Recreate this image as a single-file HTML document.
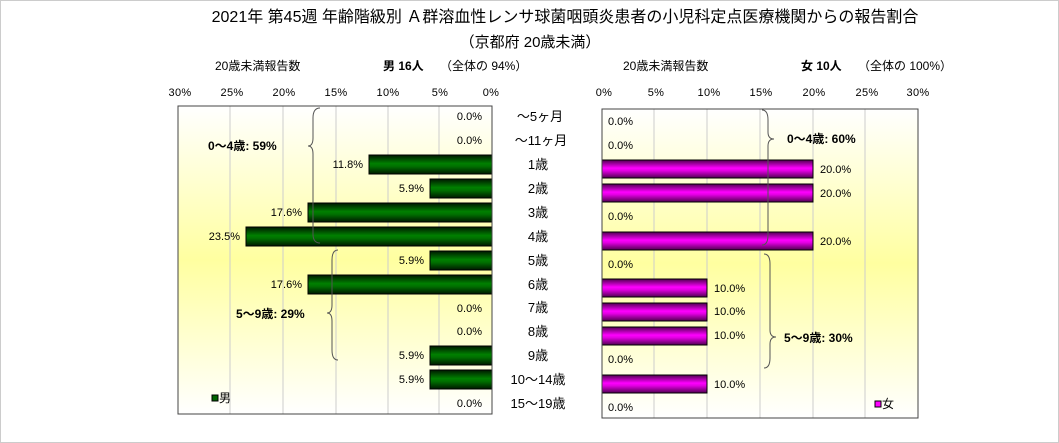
<!DOCTYPE html>
<html><head><meta charset="utf-8"><style>
body{margin:0;background:#fff}
svg{display:block;font-family:"Liberation Sans","Noto Sans CJK JP",sans-serif}
</style></head><body>
<svg width="1059" height="443" viewBox="0 0 1059 443" xmlns="http://www.w3.org/2000/svg">
<defs>
<linearGradient id="bg" x1="0" y1="0" x2="0" y2="1">
<stop offset="0" stop-color="#ffffff"/><stop offset="0.5" stop-color="#ffffa0"/><stop offset="1" stop-color="#ffffff"/>
</linearGradient>
<linearGradient id="gr" x1="0" y1="0" x2="0" y2="1">
<stop offset="0" stop-color="#001800"/><stop offset="0.45" stop-color="#008000"/><stop offset="0.6" stop-color="#007000"/><stop offset="1" stop-color="#001800"/>
</linearGradient>
<linearGradient id="mg" x1="0" y1="0" x2="0" y2="1">
<stop offset="0" stop-color="#500050"/><stop offset="0.45" stop-color="#ff00ff"/><stop offset="0.6" stop-color="#e000e0"/><stop offset="1" stop-color="#500050"/>
</linearGradient>
</defs>
<rect x="0.5" y="0.5" width="1058" height="442" fill="#fff" stroke="#ccc"/>
<text x="565" y="22" font-size="16" text-anchor="middle">2021年 第45週 年齢階級別 Ａ群溶血性レンサ球菌咽頭炎患者の小児科定点医療機関からの報告割合</text>
<text x="530" y="47" font-size="15" text-anchor="middle">（京都府 20歳未満）</text>

<g font-size="12">
<text x="215" y="70">20歳未満報告数</text>
<text x="383" y="70" font-weight="bold">男 16人</text><text x="440" y="70">（全体の 94%）</text>
<text x="623" y="70">20歳未満報告数</text>
<text x="801" y="70" font-weight="bold">女 10人</text><text x="858" y="70">（全体の 100%）</text>
</g>
<g font-size="11" text-anchor="middle" letter-spacing="0.3">
<text x="180" y="96">30%</text><text x="232" y="96">25%</text><text x="284" y="96">20%</text><text x="336" y="96">15%</text><text x="388" y="96">10%</text><text x="440" y="96">5%</text><text x="491" y="96">0%</text>
<text x="604" y="96">0%</text><text x="656" y="96">5%</text><text x="709" y="96">10%</text><text x="761" y="96">15%</text><text x="814" y="96">20%</text><text x="867" y="96">25%</text><text x="918" y="96">30%</text>
</g>

<!-- left panel -->
<rect x="178" y="106" width="314" height="308" fill="url(#bg)"/>
<g stroke="#ccc"><line x1="230" y1="106" x2="230" y2="414"/><line x1="283" y1="106" x2="283" y2="414"/><line x1="336" y1="106" x2="336" y2="414"/><line x1="388" y1="106" x2="388" y2="414"/><line x1="439" y1="106" x2="439" y2="414"/></g>
<g fill="url(#gr)" stroke="#000">
<rect x="369" y="155" width="123" height="19"/>
<rect x="430" y="179" width="62" height="19"/>
<rect x="308" y="203" width="184" height="19"/>
<rect x="246" y="227" width="246" height="19"/>
<rect x="430" y="251" width="62" height="19"/>
<rect x="308" y="275" width="184" height="19"/>
<rect x="430" y="346" width="62" height="19"/>
<rect x="430" y="370" width="62" height="19"/>
</g>
<rect x="178" y="106" width="314" height="308" fill="none" stroke="#444"/>
<g font-size="11" text-anchor="end">
<text x="482" y="120">0.0%</text><text x="482" y="144">0.0%</text>
<text x="363" y="168">11.8%</text><text x="424" y="192">5.9%</text><text x="302" y="216">17.6%</text><text x="240" y="240">23.5%</text>
<text x="424" y="264">5.9%</text><text x="302" y="288">17.6%</text><text x="482" y="312">0.0%</text><text x="482" y="335">0.0%</text>
<text x="424" y="359">5.9%</text><text x="424" y="383">5.9%</text><text x="482" y="407">0.0%</text>
</g>
<g fill="none" stroke="#555">
<path d="M320,108 Q313,108 313,118 L313,138 Q313,146 308,146 Q313,146 313,154 L313,234 Q313,243 320,243"/>
<path d="M338,250 Q332,250 332,260 L332,305 Q332,313 327,313 Q332,313 332,321 L332,350 Q332,360 338,360"/>
</g>
<g font-size="12" font-weight="bold">
<text x="208" y="150">0〜4歳: 59%</text>
<text x="236" y="318">5〜9歳: 29%</text>
</g>
<rect x="212" y="395" width="6" height="6" fill="#006400" stroke="#000"/>
<text x="219" y="402" font-size="12">男</text>

<!-- categories -->
<g font-size="13" text-anchor="middle">
<text x="540" y="121">〜5ヶ月</text><text x="541" y="145">〜11ヶ月</text><text x="538" y="169">1歳</text><text x="538" y="193">2歳</text>
<text x="538" y="217">3歳</text><text x="538" y="241">4歳</text><text x="538" y="265">5歳</text><text x="538" y="289">6歳</text>
<text x="538" y="312">7歳</text><text x="538" y="336">8歳</text><text x="538" y="360">9歳</text><text x="538" y="384">10〜14歳</text><text x="538" y="408">15〜19歳</text>
</g>

<!-- right panel -->
<rect x="602" y="109" width="316" height="309" fill="url(#bg)"/>
<g stroke="#ccc"><line x1="654" y1="109" x2="654" y2="418"/><line x1="707" y1="109" x2="707" y2="418"/><line x1="760" y1="109" x2="760" y2="418"/><line x1="813" y1="109" x2="813" y2="418"/><line x1="865" y1="109" x2="865" y2="418"/></g>
<g fill="url(#mg)" stroke="#000">
<rect x="602" y="160" width="211" height="18"/>
<rect x="602" y="184" width="211" height="18"/>
<rect x="602" y="232" width="211" height="18"/>
<rect x="602" y="279" width="105" height="18"/>
<rect x="602" y="303" width="105" height="18"/>
<rect x="602" y="327" width="105" height="18"/>
<rect x="602" y="375" width="105" height="18"/>
</g>
<rect x="602" y="109" width="316" height="309" fill="none" stroke="#444"/>
<g font-size="11">
<text x="608" y="125">0.0%</text><text x="608" y="149">0.0%</text>
<text x="820" y="173">20.0%</text><text x="820" y="197">20.0%</text><text x="608" y="220">0.0%</text><text x="820" y="245">20.0%</text>
<text x="608" y="268">0.0%</text><text x="714" y="292">10.0%</text><text x="714" y="315">10.0%</text><text x="714" y="339">10.0%</text>
<text x="608" y="363">0.0%</text><text x="714" y="388">10.0%</text><text x="608" y="411">0.0%</text>
</g>
<g fill="none" stroke="#555">
<path d="M762,110 Q768,110 768,120 L768,132 Q768,139 774,139 Q768,139 768,146 L768,235 Q768,245 762,245"/>
<path d="M764,254 Q770,254 770,264 L770,330 Q770,337 776,337 Q770,337 770,344 L770,358 Q770,368 764,368"/>
</g>
<g font-size="12" font-weight="bold">
<text x="787" y="143">0〜4歳: 60%</text>
<text x="784" y="342">5〜9歳: 30%</text>
</g>
<rect x="875" y="401" width="6" height="6" fill="#ff00ff" stroke="#000"/>
<text x="882" y="408" font-size="12">女</text>
</svg>
</body></html>
